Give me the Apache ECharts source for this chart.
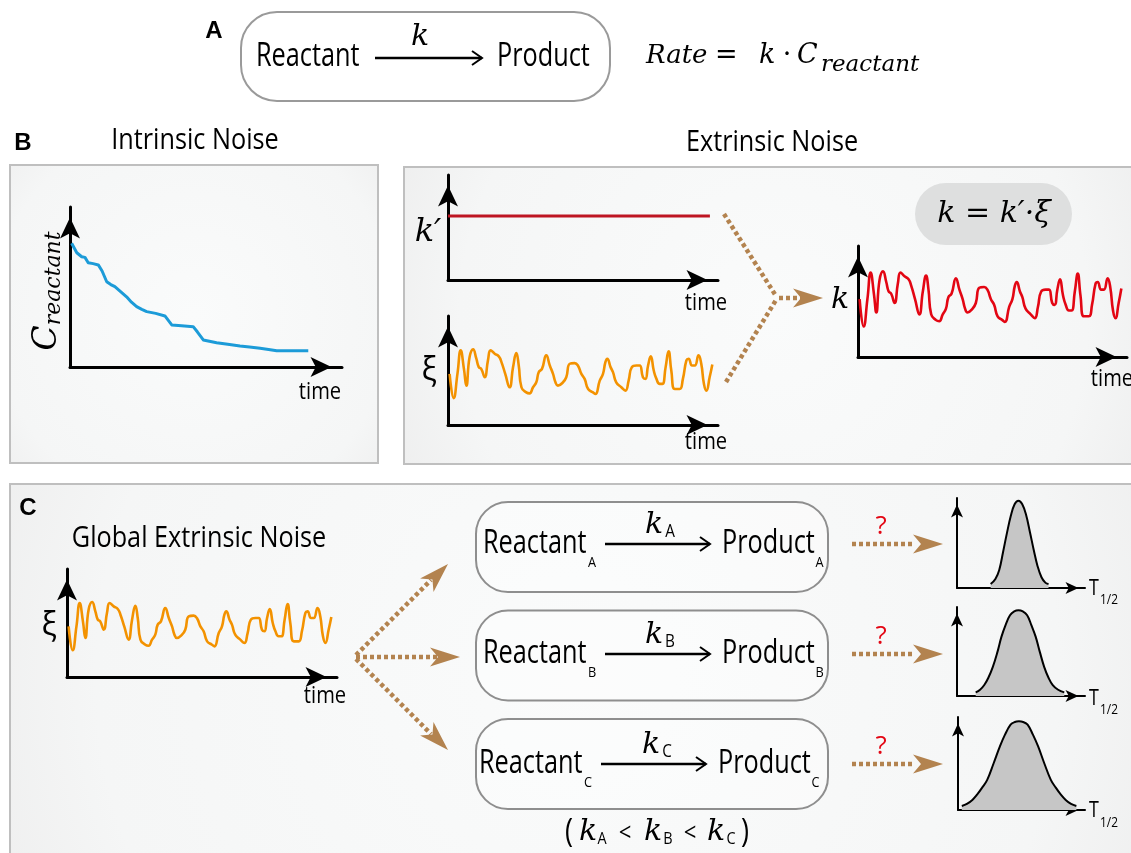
<!DOCTYPE html>
<html><head><meta charset="utf-8">
<script src="https://cdn.jsdelivr.net/npm/echarts@6/dist/echarts.min.js"></script>
<style>html,body{margin:0;padding:0;background:#fff}#c{width:1131px;height:853px}</style>
</head><body><div id="c"></div><script>
// ---------------- data ----------------
const decayTime = [0.6,2.5,4.3,5.5,6.7,8.5,10.4,11.8,13.5,15,16.5,18.7,20.8,22.6,24.5,26.4,28.2,31.5,34.9,37.4,41,45.3,46.8,49,53.9,58,62.5,66,69.9,73,76,87.6];
const decayConc = [77.3,71.4,68.9,68.5,65.2,64.6,63.8,60,53.3,51.5,50.2,47,43.9,40.5,37.7,36,34.6,33.5,31.9,26.3,25.8,25.2,22,16.9,15.2,14.2,13.1,12.5,11.7,11,10.2,10.2];

const kPrimeTime = [0, 97];
const kPrimeValue = [61, 61];

const xiTime = [0.6,2.1,3.5,4.7,5.9,6.8,8.0,9.3,10.5,11.4,12.3,13.6,14.8,15.8,17.3,18.8,19.8,21.2,22.8,24.1,25.3,26.2,27.2,29.0,30.2,31.5,32.7,33.6,34.8,36.4,37.7,38.9,39.8,40.7,42.6,43.8,45.1,46.9,48.1,49.4,50.6,51.9,53.7,54.6,56.2,57.4,58.3,59.0,60.2,61.1,62.3,64.2,65.7,66.9,68.1,69.8,71.0,72.2,73.1,74.1,75.1,76.2,77.2,78.4,79.4,80.6,81.7,82.7,84.0,85.8,87.0,88.3,89.1,90.4,91.4,92.8,93.8,94.8,95.7,96.9,97.9];
const xiValue = [46.9,24.7,46.9,68.5,51.5,36.1,62.3,69.4,60.8,53.1,51.5,43.8,59.3,68.5,65.4,63.0,57.7,46.9,34.6,53.1,66.0,54.6,34.6,29.9,29.0,34.6,39.2,48.5,51.5,63.9,54.6,46.9,39.2,36.1,39.2,43.8,56.2,56.8,54.6,46.9,42.3,33.0,29.9,28.4,40.7,46.9,57.7,60.8,53.1,48.5,39.2,34.6,31.5,40.7,53.1,54.6,54.6,43.8,42.3,54.6,63.0,50.0,42.3,37.7,37.7,53.1,67.6,50.0,33.0,33.0,42.3,59.3,60.8,54.6,54.6,63.9,56.2,37.7,31.5,43.8,55.6];

const bellATime = [26.3,30,33,36,39,42,45,48,51,54,57,60,63,66,69,71.5];
const bellAValue = [4.4,10,20,40,61,80,93,97,93,81,62,42,24,12,6,4.4];
const bellBTime = [14.6,18,21.3,24.5,28,31.5,34.7,38,41.4,44.7,48,51.4,54.8,58,61.5,64.8,68.1,71.5,74.8,79,83.8];
const bellBValue = [4.1,7,12.3,20.5,32.8,49,66.4,80,90.7,95,96.3,95,90.7,80,66.4,49,32.8,20.5,12.3,7,4.1];
const bellCTime = [3,7,11.3,15,19,23,28,33,37,41.4,44.7,48,51.3,54.8,59,63.1,68,73.1,77,81,84.8,89,93.2];
const bellCValue = [4.3,6.5,10.8,16.5,24,32.4,50,68.3,81,91.7,94.6,95.3,94.6,91.7,81,68.3,50,32.4,24,16.5,10.8,6.5,4.3];

const reactionLabels = ['A','B','C'];

// ---------------- helpers ----------------
const pairs = (xs, ys) => xs.map((x, i) => [x, ys[i]]);
const SANS = "'Open Sans',sans-serif";
const MATH = "'DejaVu Serif',serif";
const BOLD = "bold 24px 'Liberation Sans',Arial,sans-serif";
const BROWN = '#B3834F';

const grids = [
  {left:70, top:207, width:272, height:160},   // 0 intrinsic
  {left:448, top:175, width:270, height:105},  // 1 k'
  {left:448, top:316, width:270, height:109},  // 2 xi (B)
  {left:858, top:246, width:269, height:111},  // 3 k
  {left:67, top:569, width:270, height:108},   // 4 xi (C)
  {left:957, top:498, width:128, height:90},   // 5 bell A
  {left:957, top:607, width:128, height:89},   // 6 bell B
  {left:958, top:717, width:127, height:93}    // 7 bell C
];
function axisLine(w, size){
  return {show:true, onZero:false, symbol:['none','arrow'], symbolSize:size, symbolOffset:[0, -size[1]/2],
          lineStyle:{color:'#000', width:w}};
}
const xAxes = [], yAxes = [];
grids.forEach((g, i) => {
  const small = i >= 5;
  const w = small ? 2 : 3, s = small ? [9, 13] : [15, 21];
  xAxes.push({gridIndex:i, type:'value', min:0, max:100, axisLine:axisLine(w, s), axisTick:{show:false}, axisLabel:{show:false}, splitLine:{show:false}});
  yAxes.push({gridIndex:i, type:'value', min:0, max: i === 3 ? 90 : 100, axisLine:axisLine(w, s), axisTick:{show:false}, axisLabel:{show:false}, splitLine:{show:false}});
});
grids.forEach(g => { g.containLabel = false; });

function lineSeries(idx, data, color, width, smooth){
  return {type:'line', xAxisIndex:idx, yAxisIndex:idx, data, symbol:'none', smooth:smooth,
          lineStyle:{color, width, join:'round'}, silent:true, animation:false, z:5};
}
function bellSeries(idx, data){
  return {type:'line', xAxisIndex:idx, yAxisIndex:idx, data, symbol:'none', smooth:0.4,
          lineStyle:{color:'#000', width:2}, areaStyle:{color:'#C6C6C6', opacity:1}, silent:true, animation:false, z:5};
}
const series = [
  lineSeries(0, pairs(decayTime, decayConc), '#1C9BD8', 3, false),
  lineSeries(1, pairs(kPrimeTime, kPrimeValue), '#BE1522', 3, false),
  lineSeries(2, pairs(xiTime, xiValue), '#F39200', 2.6, 0.5),
  lineSeries(3, pairs(xiTime, xiValue), '#E30613', 2.6, 0.5),
  lineSeries(4, pairs(xiTime, xiValue), '#F39200', 2.6, 0.5),
  bellSeries(5, pairs(bellATime, bellAValue)),
  bellSeries(6, pairs(bellBTime, bellBValue)),
  bellSeries(7, pairs(bellCTime, bellCValue))
];

// ---------------- decorations ----------------
const G = [];
function panel(x, y, w, h, r){
  G.push({type:'rect', z:-10, shape:{x, y, width:w, height:h},
    style:{fill:new echarts.graphic.RadialGradient(0.5, 0.5, r, [{offset:0, color:'#FAFBFB'},{offset:0.7,color:'#F5F6F6'},{offset:1, color:'#EBEBEB'}]),
           stroke:'#BFBFBF', lineWidth:2}});
}
// text; sx = horizontal squeeze (the original uses a condensed face)
function T(x, y, text, font, align, color, sx){
  const el = {type:'text', z:100, x, y, style:{text, font, fill:color || '#000', align:align || 'center', verticalAlign:'middle'}};
  if (sx) el.scaleX = sx;
  G.push(el);
}
function rbox(x, y, w, h, r, stroke, fill){
  G.push({type:'rect', z:1, shape:{x, y, width:w, height:h, r}, style:{fill:fill, stroke:stroke, lineWidth:2}});
}
function rxArrow(x1, x2, y){
  G.push({type:'line', z:10, shape:{x1, y1:y, x2, y2:y}, style:{stroke:'#000', lineWidth:2.5}});
  G.push({type:'polyline', z:10, shape:{points:[[x2-10, y-7],[x2, y],[x2-10, y+7]]}, style:{stroke:'#000', lineWidth:2, fill:null}});
}
function dotted(points){
  G.push({type:'polyline', z:10, shape:{points}, style:{stroke:BROWN, lineWidth:4.5, lineDash:[4, 3], fill:null}});
}
function head(tx, ty, ang){
  const len = 30, hw = 9.5, notch = 22;
  const dx = Math.cos(ang), dy = Math.sin(ang), px = -dy, py = dx;
  G.push({type:'polygon', z:11, shape:{points:[
    [tx, ty],
    [tx - len*dx + hw*px, ty - len*dy + hw*py],
    [tx - notch*dx, ty - notch*dy],
    [tx - len*dx - hw*px, ty - len*dy - hw*py]]}, style:{fill:BROWN}});
}
const WORD = '32px ' + SANS, WSX = 0.79;     // Reactant / Product
const TITLE = '29px ' + SANS, TSX = 0.87;    // panel titles
const TIME = '24px ' + SANS, TMSX = 0.84;    // "time"

// panels
panel(10, 165, 368, 298, 0.95);
panel(404, 167, 740, 297, 1.5);
panel(10, 484, 1135, 380, 1.8);

// ---- A ----
T(214, 31, 'A', BOLD);
rbox(241, 12, 369, 89, 36, '#9A9A9A', '#FFFFFF');
T(256, 57, 'Reactant', WORD, 'left', null, WSX);
rxArrow(375, 482, 58);
T(420, 37, 'k', 'italic 30px ' + MATH);
T(497, 57, 'Product', WORD, 'left', null, WSX);
T(646, 56, 'Rate', 'italic 26px ' + MATH, 'left');
T(715, 56, '=', '27px ' + MATH, 'left');
T(759, 56, 'k', 'italic 27px ' + MATH, 'left');
T(787, 56, '·', '27px ' + MATH, 'center');
T(797, 56, 'C', 'italic 27px ' + MATH, 'left');
T(821, 65, 'reactant', 'italic 23px ' + MATH, 'left');

// ---- B ----
T(23, 143, 'B', BOLD);
T(195, 141, 'Intrinsic Noise', TITLE, 'center', null, TSX);
T(772, 143, 'Extrinsic Noise', TITLE, 'center', null, TSX);
G.push({type:'text', z:100, x:47, y:291, rotation:Math.PI/2, style:{text:'{c|C}{s|reactant}', align:'center', verticalAlign:'middle',
  rich:{c:{font:'italic 33px ' + MATH, fill:'#000'}, s:{font:'italic 22px ' + MATH, fill:'#000', padding:[14,0,0,0]}}}});
T(320, 392, 'time', TIME, 'center', null, TMSX);
T(706, 303, 'time', TIME, 'center', null, TMSX);
T(706, 442, 'time', TIME, 'center', null, TMSX);
T(1112, 379, 'time', TIME, 'center', null, TMSX);
T(428, 233, 'k′', 'italic 32px ' + MATH);
T(429, 371, 'ξ', "32px 'Open Sans',sans-serif");
T(840, 300, 'k', 'italic 30px ' + MATH);
G.push({type:'rect', z:1, shape:{x:915, y:183, width:157, height:62, r:31}, style:{fill:'#DEDFDF'}});
T(994, 214, 'k = k′·ξ', 'italic 30px ' + MATH);
dotted([[724, 214],[776, 296]]);
dotted([[726, 382],[776, 300]]);
dotted([[779, 298],[801, 298]]);
head(823, 298, 0);

// ---- C ----
T(28, 508, 'C', BOLD);
T(199, 539, 'Global Extrinsic Noise', TITLE, 'center', null, TSX);
T(49, 626, 'ξ', "32px 'Open Sans',sans-serif");
T(325, 696, 'time', TIME, 'center', null, TMSX);
dotted([[356, 655],[431, 580]]);
head(448, 564, -Math.PI/4);
dotted([[356, 657],[438, 657]]);
head(460, 657, 0);
dotted([[356, 659],[431, 734]]);
head(448, 750, Math.PI/4);

const boxTop = [502, 610.5, 719];
const rowY = [544, 654, 764];
const kx = [654, 654, 651];
reactionLabels.forEach((L, i) => {
  const y = rowY[i], dx = i === 2 ? -4 : 0;
  rbox(476, boxTop[i], 352, 90, 32, '#8E8E8E', 'rgba(255,255,255,0.35)');
  T(483 + dx, y, 'Reactant', WORD, 'left', null, WSX);
  T(592 + dx, y + 19, L, '15px ' + SANS, 'center', null, 0.85);
  rxArrow(605 + dx, 710 + dx, y);
  T(kx[i], y - 19, 'k', 'italic 30px ' + MATH);
  T(kx[i] + 16, y - 12, L, '18px ' + SANS, 'center', null, 0.85);
  T(722 + dx, y, 'Product', WORD, 'left', null, WSX);
  T(819.5 + dx, y + 19, L, '15px ' + SANS, 'center', null, 0.85);
  dotted([[852, y],[915, y]]);
  head(943, y, 0);
  T(881, y - 17, '?', "26px 'Open Sans',sans-serif", 'center', '#E30613');
  T(1094, y + 45 + (i === 2 ? 2 : 0), 'T', '21px ' + SANS, 'center', null, 0.85);
  T(1109, y + 56 + (i === 2 ? 3 : 0), '1/2', '14px ' + SANS, 'center', null, 0.85);
});
// (kA < kB < kC)
T(569, 833, '(', '32px ' + SANS, 'center', null, 0.85);
T(588, 832, 'k', 'italic 30px ' + MATH);
T(602, 839, 'A', '17px ' + SANS, 'center', null, 0.85);
T(625, 834, '<', '26px ' + SANS, 'center', null, 0.85);
T(653, 832, 'k', 'italic 30px ' + MATH);
T(668, 839, 'B', '17px ' + SANS, 'center', null, 0.85);
T(690, 834, '<', '26px ' + SANS, 'center', null, 0.85);
T(716, 832, 'k', 'italic 30px ' + MATH);
T(731, 839, 'C', '17px ' + SANS, 'center', null, 0.85);
T(745, 833, ')', '32px ' + SANS, 'center', null, 0.85);

const chart = echarts.init(document.getElementById('c'), null, {renderer:'canvas'});
chart.setOption({
  animation:false,
  backgroundColor:'#FFFFFF',
  grid:grids, xAxis:xAxes, yAxis:yAxes, series:series,
  graphic:{elements:G}
});
</script></body></html>
